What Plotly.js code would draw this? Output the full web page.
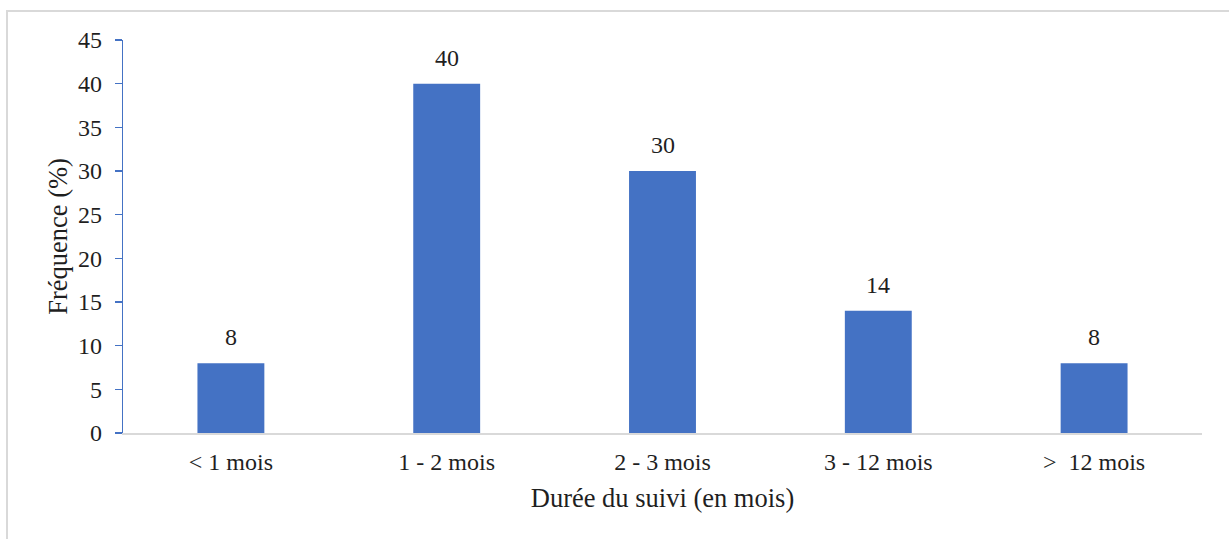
<!DOCTYPE html>
<html>
<head>
<meta charset="utf-8">
<script src="https://cdn.plot.ly/plotly-3.0.1.min.js"></script>
<style>
  html, body { margin: 0; padding: 0; background: #fff; }
  #wrap { position: relative; width: 1229px; height: 539px; overflow: hidden; }
  #chart { width: 1229px; height: 539px; }
  #frame { position: absolute; left: 6px; top: 10px; width: 1300px; height: 600px;
           border-left: 2px solid #d9d9d9; border-top: 2px solid #d9d9d9; pointer-events: none; }
</style>
</head>
<body>
<div id="wrap">
  <div id="chart"></div>
  <div id="frame"></div>
</div>
<script>
const categories = ["< 1 mois", "1 - 2 mois", "2 - 3 mois", "3 - 12 mois", ">\u00a0 12 mois"];
const frequencies = [8, 40, 30, 14, 8];
const yTickValues = [0, 5, 10, 15, 20, 25, 30, 35, 40, 45];

const FONT = "Liberation Serif";
const TEXT = "#1f1f1f";
const BLUE = "#4472C4";

const trace = {
  type: "bar",
  x: categories,
  y: frequencies,
  marker: { color: BLUE },
  hoverinfo: "x+y"
};

const annotations = categories.map((c, i) => ({
  x: c, y: frequencies[i], xref: "x", yref: "y",
  text: String(frequencies[i]),
  showarrow: false, yanchor: "middle", yshift: 26,
  font: { family: FONT, size: 24, color: TEXT }
}));

const layout = {
  width: 1229, height: 539,
  margin: { l: 123, r: 27, t: 40, b: 106 },
  paper_bgcolor: "#fff", plot_bgcolor: "#fff",
  bargap: 0.69,
  showlegend: false,
  font: { family: FONT, size: 24, color: TEXT },
  xaxis: {
    type: "category",
    showline: true, linecolor: "#d9d9d9", linewidth: 1.5,
    ticks: "", showgrid: false, zeroline: false,
    ticklabelstandoff: 7,
    tickfont: { family: FONT, size: 24, color: TEXT },
    title: { text: "Durée du suivi (en mois)", font: { family: FONT, size: 26.5, color: TEXT }, standoff: 14 }
  },
  yaxis: {
    range: [0, 45],
    tickvals: yTickValues,
    ticktext: yTickValues.map(String),
    showline: true, linecolor: BLUE, linewidth: 1.3,
    ticks: "outside", ticklen: 7, tickcolor: BLUE, tickwidth: 1.3,
    ticklabelstandoff: 8,
    showgrid: false, zeroline: false,
    tickfont: { family: FONT, size: 24, color: TEXT },
    title: { text: "Fréquence (%)", font: { family: FONT, size: 26.5, color: TEXT }, standoff: 2 }
  },
  annotations: annotations
};

Plotly.newPlot("chart", [trace], layout, { displayModeBar: false, staticPlot: true });
</script>
</body>
</html>
